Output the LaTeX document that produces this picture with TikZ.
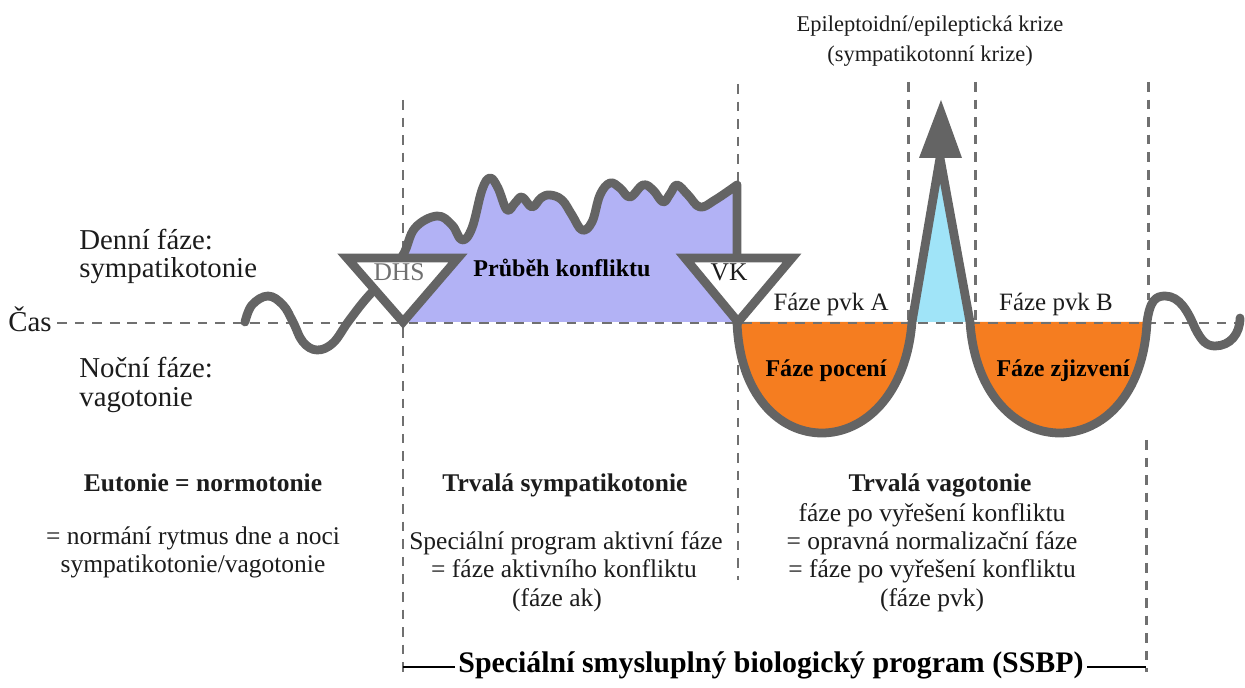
\documentclass[tikz,border=0pt]{standalone}
\usepackage{fontspec}
\setmainfont{Liberation Serif}
\definecolor{carag}{RGB}{112,112,112}
\definecolor{krivg}{RGB}{100,100,100}
\definecolor{konfl}{RGB}{178,178,245}
\definecolor{oranz}{RGB}{245,125,32}
\definecolor{modra}{RGB}{160,228,248}
\definecolor{textc}{RGB}{28,28,28}

\begin{document}
\begin{tikzpicture}[x=0.02cm,y=-0.02cm,
  osa/.style={draw=carag,line width=1.7pt,dash pattern=on 5.5pt off 4.5pt},
  krivka/.style={draw=krivg,line width=5pt,line join=round,line cap=round},
  troj/.style={draw=krivg,fill=white,line width=5pt,line join=miter},
  zavorka/.style={draw=black,line width=1.6pt},
  txt/.style={font=\fontsize{14.5}{16.5}\selectfont,text=textc,inner sep=1pt},
  txtb/.style={txt,font=\fontsize{14.5}{16.5}\selectfont\bfseries},
  bok/.style={font=\fontsize{16.4}{18}\selectfont,text=textc,inner sep=0pt,anchor=base west},
  uvnitr/.style={font=\fontsize{13.7}{15}\selectfont\bfseries,text=black,inner sep=0pt,anchor=base}]

\useasboundingbox (0,0) rectangle (1245,688);

% svisle cary
\draw[osa] (403,100) -- (403,672);
\draw[osa] (738,84) -- (738,580);
\draw[osa] (908,82) -- (908,320);
\draw[osa] (975,82) -- (975,320);
\draw[osa] (1148,82) -- (1148,300);
\draw[osa] (1146,440) -- (1146,672);

% vyplne
\fill[konfl] plot[smooth,tension=0.65] coordinates {(403,255) (415,228) (437,216) (452,225) (462,240) (472,228) (482,190) (490,178) (498,188) (507,210) (515,203) (522,197) (532,207) (541,198) (550,195) (562,200) (572,215) (582,230) (592,222) (600,195) (610,183) (620,188) (630,197) (643,185) (653,190) (663,202) (670,194) (677,185) (688,195) (700,207) (715,200) (737,185)} -- (737,322) -- (403,322) -- cycle;
\fill[oranz] (737,322) .. controls (742,470) and (900,470) .. (912,322) -- cycle;
\fill[oranz] (970,322) .. controls (980,470) and (1140,470) .. (1147,322) -- cycle;
\fill[modra] (912,322) -- (940,158) -- (970,322) -- cycle;

% osa casu
\node[bok] (cas) at (8,332) {Čas};
\coordinate (osakonec) at (1245,323);
\draw[osa] ([xshift=3pt]cas.east |- osakonec) -- (osakonec);

% prubeh
\draw[krivka] plot[smooth,tension=0.65] coordinates {(245,322) (252,305) (268,296) (283,305) (293,322) (303,342) (317,350) (333,343) (348,322) (365,300) (385,278) (403,255) (415,228) (437,216) (452,225) (462,240) (472,228) (482,190) (490,178) (498,188) (507,210) (515,203) (522,197) (532,207) (541,198) (550,195) (562,200) (572,215) (582,230) (592,222) (600,195) (610,183) (620,188) (630,197) (643,185) (653,190) (663,202) (670,194) (677,185) (688,195) (700,207) (715,200) (737,185)}
  -- (737,322) .. controls (742,470) and (900,470) .. (912,322)
  -- (940,158) -- (970,322)
  .. controls (980,470) and (1140,470) .. (1147,322)
  .. controls (1150,300) and (1156,296) .. (1165,296)
  .. controls (1180,296) and (1188,312) .. (1195,328)
  .. controls (1202,342) and (1207,346) .. (1215,346)
  .. controls (1230,346) and (1240,334) .. (1240,318);
\fill[krivg] (919,158) -- (941,100) -- (962,158) -- cycle;

\draw[troj] (347,258) -- (458,258) -- (403,322) -- cycle;
\draw[troj] (685,258) -- (792,258) -- (738,322) -- cycle;
\node[txt,anchor=base,text=carag,inner sep=0pt] (dhs) at (399,281) {DHS};
\node[txt,anchor=base,inner sep=0pt] (vk) at (729,281) {VK};

\node[uvnitr] (prubeh) at (562,277) {Průběh konfliktu};
\node[uvnitr] (poceni) at (826,377) {Fáze pocení};
\node[uvnitr] (zjizv) at (1063,377) {Fáze zjizvení};
\node[txt,anchor=base,inner sep=0pt,font=\fontsize{14.2}{16}\selectfont] (pvka) at (831,311) {Fáze pvk A};
\node[txt,anchor=base,inner sep=0pt,font=\fontsize{14.2}{16}\selectfont] (pvkb) at (1056,311) {Fáze pvk B};

\node[txt,anchor=base,font=\fontsize{12.8}{15}\selectfont] (epi1) at (930,32) {Epileptoidní/epileptická krize};
\node[txt,anchor=base,font=\fontsize{12.8}{15}\selectfont] (epi2) at (930,62) {(sympatikotonní krize)};

\node[bok] (den1) at (79,250) {Denní fáze:};
\node[bok] (den2) at (79,278) {sympatikotonie};
\node[bok] (noc1) at (79,378) {Noční fáze:};
\node[bok] (noc2) at (79,407) {vagotonie};

\node[txtb,anchor=base] (eut) at (203,492) {Eutonie = normotonie};
\node[txt,anchor=base] (eut1) at (193,545) {= normání rytmus dne a noci};
\node[txt,anchor=base] (eut2) at (193,573) {sympatikotonie/vagotonie};

\node[txtb,anchor=base] (sym) at (565,492) {Trvalá sympatikotonie};
\node[txt,anchor=base] (sym1) at (566,550) {Speciální program aktivní fáze};
\node[txt,anchor=base] (sym2) at (564,578) {= fáze aktivního konfliktu};
\node[txt,anchor=base] (sym3) at (557,607) {(fáze ak)};

\node[txtb,anchor=base] (vag) at (940,492) {Trvalá vagotonie};
\node[txt,anchor=base] (vag1) at (932,522) {fáze po vyřešení konfliktu};
\node[txt,anchor=base] (vag2) at (932,550) {= opravná normalizační fáze};
\node[txt,anchor=base] (vag3) at (932,578) {= fáze po vyřešení konfliktu};
\node[txt,anchor=base] (vag4) at (932,607) {(fáze pvk)};

% SSBP
\node[font=\fontsize{17}{19}\selectfont\bfseries,inner sep=2pt] (ssbp) at (771,665) {Speciální smysluplný biologický program (SSBP)};
\coordinate (zl) at (403,667);
\coordinate (zp) at (1146,667);
\draw[zavorka] (zl) -- (ssbp.west |- zl);
\draw[zavorka] (ssbp.east |- zp) -- (zp);

\end{tikzpicture}
\end{document}
